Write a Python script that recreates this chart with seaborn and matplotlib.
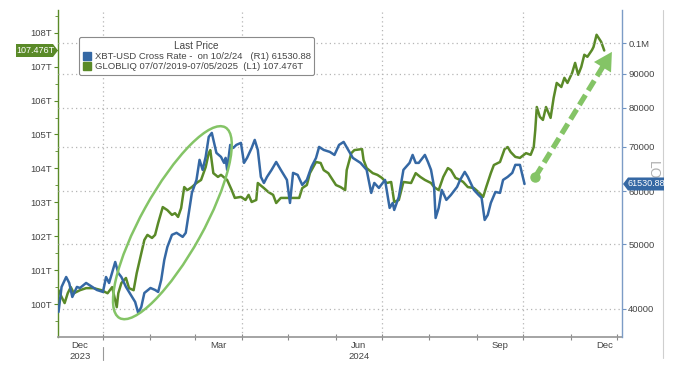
import matplotlib
matplotlib.use("Agg")
import numpy as np
import pandas as pd
import matplotlib.pyplot as plt
import matplotlib.dates as mdates
import matplotlib.patches as mpatches
import matplotlib.transforms as mtransforms
from matplotlib.lines import Line2D
from matplotlib.ticker import FixedLocator, NullLocator, FixedFormatter
import seaborn as sns

sns.set_theme(style="white")
plt.rcParams["font.family"] = ["Liberation Sans", "DejaVu Sans"]

# ---------------- data ----------------
gl_dates = [
    "2023-12-03", "2023-12-05", "2023-12-07", "2023-12-09", "2023-12-11", "2023-12-13",
    "2023-12-17", "2023-12-21", "2023-12-26", "2023-12-31", "2024-01-04", "2024-01-07",
    "2024-01-10", "2024-01-11", "2024-01-13", "2024-01-16", "2024-01-18", "2024-01-21",
    "2024-01-23", "2024-01-25", "2024-01-28", "2024-01-30", "2024-02-02", "2024-02-04",
    "2024-02-06", "2024-02-09", "2024-02-12", "2024-02-15", "2024-02-17", "2024-02-19",
    "2024-02-21", "2024-02-23", "2024-02-25", "2024-02-28", "2024-03-02", "2024-03-05",
    "2024-03-08", "2024-03-10", "2024-03-11", "2024-03-13", "2024-03-16", "2024-03-18",
    "2024-03-22", "2024-03-25", "2024-03-27", "2024-03-31", "2024-04-03", "2024-04-05",
    "2024-04-07", "2024-04-10", "2024-04-11", "2024-04-15", "2024-04-18", "2024-04-21",
    "2024-04-23", "2024-04-26", "2024-05-03", "2024-05-08", "2024-05-10", "2024-05-13",
    "2024-05-15", "2024-05-19", "2024-05-22", "2024-05-24", "2024-05-27", "2024-05-29",
    "2024-06-01", "2024-06-04", "2024-06-07", "2024-06-08", "2024-06-11", "2024-06-13",
    "2024-06-18", "2024-06-19", "2024-06-21", "2024-06-25", "2024-06-28", "2024-07-01",
    "2024-07-04", "2024-07-07", "2024-07-09", "2024-07-12", "2024-07-15", "2024-07-20",
    "2024-07-23", "2024-07-26", "2024-07-29", "2024-08-02", "2024-08-04", "2024-08-07",
    "2024-08-10", "2024-08-13", "2024-08-15", "2024-08-18", "2024-08-21", "2024-08-23",
    "2024-08-26", "2024-08-30", "2024-09-02", "2024-09-05", "2024-09-07", "2024-09-10",
    "2024-09-12", "2024-09-16", "2024-09-19", "2024-09-21", "2024-09-23", "2024-09-26",
    "2024-09-29", "2024-10-03", "2024-10-06", "2024-10-08", "2024-10-09", "2024-10-10",
    "2024-10-12", "2024-10-14", "2024-10-16", "2024-10-19", "2024-10-21", "2024-10-23",
    "2024-10-26", "2024-10-28", "2024-10-30", "2024-11-02", "2024-11-04", "2024-11-06",
    "2024-11-08", "2024-11-10", "2024-11-12", "2024-11-15", "2024-11-16", "2024-11-18",
    "2024-11-21", "2024-11-23",
]
gl_values = [
    100.41, 100.21, 100.03, 100.32, 100.50, 100.32,
    100.41, 100.47, 100.47, 100.41, 100.32, 100.50,
    99.91, 100.32, 100.62, 100.77, 100.47, 100.41,
    100.91, 101.30, 101.89, 102.04, 101.95, 102.04,
    102.39, 102.86, 102.77, 102.63, 102.68, 102.57,
    102.83, 103.45, 103.36, 103.45, 103.57, 103.66,
    104.04, 104.45, 104.54, 103.86, 103.75, 103.81,
    103.66, 103.36, 103.13, 103.16, 103.07, 103.22,
    103.01, 103.07, 103.57, 103.42, 103.30, 103.22,
    102.98, 103.13, 103.13, 103.13, 103.42, 103.51,
    103.86, 104.19, 104.16, 103.95, 103.86, 103.72,
    103.51, 103.45, 103.36, 103.95, 104.45, 104.54,
    104.57, 104.25, 104.01, 103.86, 103.81, 103.72,
    103.57, 103.60, 103.01, 103.07, 103.60, 103.57,
    103.86, 103.75, 103.66, 103.57, 103.45, 103.36,
    103.75, 104.01, 103.95, 103.72, 103.66, 103.60,
    103.45, 103.42, 103.30, 103.16, 103.45, 103.86,
    104.10, 104.19, 104.57, 104.63, 104.48, 104.34,
    104.31, 104.45, 104.40, 104.63, 105.13, 105.81,
    105.52, 105.43, 105.81, 105.49, 106.08, 106.52,
    106.40, 106.67, 106.52, 106.81, 107.11, 106.76,
    106.99, 107.35, 107.29, 107.49, 107.58, 107.94,
    107.73, 107.476,
]

xbt_dates = [
    "2023-12-03", "2023-12-05", "2023-12-08", "2023-12-10", "2023-12-12", "2023-12-15",
    "2023-12-17", "2023-12-21", "2023-12-25", "2023-12-28", "2024-01-01", "2024-01-03",
    "2024-01-05", "2024-01-09", "2024-01-11", "2024-01-13", "2024-01-16", "2024-01-20",
    "2024-01-22", "2024-01-24", "2024-01-26", "2024-01-28", "2024-02-01", "2024-02-04",
    "2024-02-06", "2024-02-08", "2024-02-10", "2024-02-12", "2024-02-15", "2024-02-18",
    "2024-02-22", "2024-02-24", "2024-02-26", "2024-02-28", "2024-03-02", "2024-03-04",
    "2024-03-06", "2024-03-08", "2024-03-10", "2024-03-12", "2024-03-15", "2024-03-18",
    "2024-03-20", "2024-03-21", "2024-03-22", "2024-03-24", "2024-03-26", "2024-03-28",
    "2024-03-31", "2024-04-02", "2024-04-04", "2024-04-07", "2024-04-09", "2024-04-11",
    "2024-04-13", "2024-04-15", "2024-04-17", "2024-04-20", "2024-04-23", "2024-04-26",
    "2024-04-30", "2024-05-02", "2024-05-04", "2024-05-07", "2024-05-10", "2024-05-13",
    "2024-05-16", "2024-05-19", "2024-05-21", "2024-05-24", "2024-05-28", "2024-05-31",
    "2024-06-03", "2024-06-06", "2024-06-09", "2024-06-12", "2024-06-17", "2024-06-21",
    "2024-06-24", "2024-06-26", "2024-06-29", "2024-07-03", "2024-07-06", "2024-07-08",
    "2024-07-09", "2024-07-12", "2024-07-15", "2024-07-19", "2024-07-21", "2024-07-23",
    "2024-07-25", "2024-07-29", "2024-07-31", "2024-08-02", "2024-08-04", "2024-08-05",
    "2024-08-07", "2024-08-09", "2024-08-12", "2024-08-15", "2024-08-19", "2024-08-21",
    "2024-08-24", "2024-08-26", "2024-08-30", "2024-09-02", "2024-09-04", "2024-09-06",
    "2024-09-08", "2024-09-10", "2024-09-13", "2024-09-16", "2024-09-18", "2024-09-21",
    "2024-09-24", "2024-09-26", "2024-09-29", "2024-10-02",
]
xbt_values = [
    39590, 43160, 44660, 43750, 41690, 43160,
    43000, 43750, 43160, 42710, 42420, 44660,
    43750, 47030, 45280, 44660, 43160, 41690,
    40980, 39450, 40280, 42270, 43000, 42710,
    42420, 44210, 47360, 49530, 51640, 52000,
    51280, 52000, 55690, 59670, 62400, 66860,
    64600, 67550, 72370, 73370, 68490, 67550,
    66170, 67320, 64600, 70400, 69670, 70400,
    70890, 66170, 67320, 69670, 71620, 69190,
    63050, 61750, 63050, 64600, 66380, 64600,
    62400, 57640, 63930, 63490, 61330, 62400,
    65270, 67320, 69910, 69190, 68720, 68010,
    70400, 71130, 69190, 67320, 66170, 64600,
    59670, 61750, 60700, 62400, 56660, 57640,
    56270, 58860, 64600, 66170, 68010, 66170,
    66170, 68010, 66380, 64600, 60910, 54730,
    56660, 60280, 58250, 59260, 60910, 62400,
    64150, 63050, 60280, 59260, 58650, 54360,
    55300, 57640, 59860, 59670, 62400, 63050,
    63930, 65720, 65720, 61530.88,
]

left_ticks = [100, 101, 102, 103, 104, 105, 106, 107, 108]
left_labels = ["100T", "101T", "102T", "103T", "104T", "105T", "106T", "107T", "108T"]
right_ticks = [40000, 50000, 60000, 70000, 80000, 90000, 100000]
right_labels = ["40000", "50000", "60000", "70000", "80000", "90000", "0.1M"]
month_label_dates = ["2023-12-17", "2024-03-16", "2024-06-16", "2024-09-16"]
month_labels = ["Dec\n2023", "Mar", "Jun\n2024", "Sep"]
last_month_label = "Dec"

legend_title = "Last Price"
xbt_label = "XBT-USD Cross Rate -  on 10/2/24   (R1) 61530.88"
gl_label = "GLOBLIQ 07/07/2019-07/05/2025  (L1) 107.476T"
xbt_tag = "61530.88"
gl_tag = "107.476T"

BLUE = "#3568a4"
GREEN = "#5a8a28"
LIGHT_GREEN = "#84c466"
TXT = "#444444"

# ---------------- figure ----------------
W, H = 679, 374
fig = plt.figure(figsize=(W / 100, H / 100), dpi=100)
fig.patch.set_facecolor("white")
ax = fig.add_axes([58 / W, 1 - 337 / H, (622 - 58) / W, (337 - 10) / H])
ax2 = ax.twinx()

gl = pd.DataFrame({"date": pd.to_datetime(gl_dates), "value": gl_values})
xbt = pd.DataFrame({"date": pd.to_datetime(xbt_dates), "value": xbt_values})

sns.lineplot(data=gl, x="date", y="value", ax=ax, color=GREEN, linewidth=1.8, zorder=3)
sns.lineplot(data=xbt, x="date", y="value", ax=ax2, color=BLUE, linewidth=1.8, zorder=3)

ax.set_xlim(pd.Timestamp("2023-12-02 16:00"), pd.Timestamp("2024-12-04 14:00"))
ax.set_ylim(99.03, 108.67)
ax2.set_yscale("log")
ax2.set_ylim(36320, 112050)

for a in (ax, ax2):
    a.set_xlabel("")
    a.set_ylabel("")
    a.set_facecolor("none")
ax.set_facecolor("white")

# left axis
ax.yaxis.set_major_locator(FixedLocator(left_ticks))
ax.yaxis.set_major_formatter(FixedFormatter(left_labels))
ax.yaxis.set_minor_locator(FixedLocator(np.arange(99.5, 108.6, 1.0)))
ax.tick_params(axis="y", which="major", direction="out", length=3, width=0.8,
               color=GREEN, labelsize=6.8, labelcolor=TXT, pad=1.5, left=True)
ax.tick_params(axis="y", which="minor", direction="out", length=2, width=0.6,
               color=GREEN, left=True)

# right axis
ax2.yaxis.set_major_locator(FixedLocator(right_ticks))
ax2.yaxis.set_major_formatter(FixedFormatter(right_labels))
ax2.yaxis.set_minor_locator(NullLocator())
ax2.tick_params(axis="y", which="major", direction="out", length=3, width=0.8,
                color="#6f93c2", labelsize=6.8, labelcolor=TXT, pad=1.5, right=True)

# x axis: month ticks, quarter grid, labels at mid-month
ax.xaxis.set_major_locator(mdates.MonthLocator(bymonth=[1, 4, 7, 10]))
ax.xaxis.set_minor_locator(mdates.MonthLocator())
ax.xaxis.set_major_formatter(plt.NullFormatter())
ax.tick_params(axis="x", which="both", direction="inout", length=4, width=0.8,
               color="#888888", bottom=True)
for d, t in zip(month_label_dates, month_labels):
    ax.text(pd.Timestamp(d), -0.012, t, transform=ax.get_xaxis_transform(),
            ha="center", va="top", fontsize=6.8, color=TXT, linespacing=1.25)
ax.text(0.985, -0.012, last_month_label, transform=ax.transAxes,
        ha="right", va="top", fontsize=6.8, color=TXT)
# year separator
ax.plot([pd.Timestamp("2024-01-01")] * 2, [-0.03, -0.07], transform=ax.get_xaxis_transform(),
        color="#999999", lw=0.8, clip_on=False)

# grids
ax.grid(axis="x", which="major", color="#b5b5b5", linestyle=(0, (1, 2.5)), linewidth=0.9)
ax2.grid(axis="y", which="major", color="#b5b5b5", linestyle=(0, (1, 2.5)), linewidth=0.9)
ax.set_axisbelow(True)

# spines
for s in ("top", "right"):
    ax.spines[s].set_visible(False)
ax.spines["left"].set_color(GREEN)
ax.spines["left"].set_linewidth(1.0)
ax.spines["bottom"].set_color("#999999")
for s in ("top", "left", "bottom"):
    ax2.spines[s].set_visible(False)
ax2.spines["right"].set_color("#7c9cc6")
ax2.spines["right"].set_linewidth(1.0)

# legend
handles = [mpatches.Patch(facecolor=BLUE, edgecolor=BLUE),
           mpatches.Patch(facecolor=GREEN, edgecolor=GREEN)]
leg = fig.legend(handles, [xbt_label, gl_label], title=legend_title,
                 loc="upper left", bbox_to_anchor=(79 / W, 1 - 37 / H), borderaxespad=0,
                 fontsize=6.8, title_fontsize=7.2, handlelength=0.9, handleheight=0.9,
                 handletextpad=0.35, borderpad=0.4, labelspacing=0.1,
                 frameon=True, fancybox=True, edgecolor="#8a8a8a", framealpha=1)
leg.get_frame().set_linewidth(0.8)
for t in leg.get_texts():
    t.set_color(TXT)
leg.get_title().set_color(TXT)

# ellipse around the rally
ident = mtransforms.IdentityTransform()
cx, cy = ax.transData.transform((mdates.date2num(pd.Timestamp("2024-02-15 07:00")), 102.40))
ell = mpatches.Ellipse((cx, cy), width=218, height=62, angle=61, transform=ident,
                       fill=False, edgecolor=LIGHT_GREEN, linewidth=1.8, zorder=5)
fig.add_artist(ell)

# dashed arrow
p0 = (mdates.date2num(pd.Timestamp("2024-10-09")), 63050)
p1 = (mdates.date2num(pd.Timestamp("2024-11-28")), 97000)
d0 = ax2.transData.transform(p0)
d1 = ax2.transData.transform(p1)
vec = d1 - d0
u = vec / np.hypot(*vec)
head_len = 18
shaft_end = d1 - u * (head_len - 2)
fig.add_artist(Line2D([d0[0], shaft_end[0]], [d0[1], shaft_end[1]], transform=ident,
                      color=LIGHT_GREEN, lw=3.8, linestyle=(0, (2.2, 1.0)),
                      solid_capstyle="butt", dash_capstyle="butt", zorder=6))
perp = np.array([-u[1], u[0]])
base = d1 - u * head_len
head = mpatches.Polygon([d1, base + perp * 10, base - perp * 10], closed=True,
                        transform=ident, facecolor=LIGHT_GREEN, edgecolor="none", zorder=6)
fig.add_artist(head)
ax2.plot([pd.Timestamp("2024-10-09")], [63050], marker="o", markersize=6.5,
         color=LIGHT_GREEN, zorder=6, clip_on=False)

# value tags
x0 = ax.bbox.x0
x1 = ax.bbox.x1
yg = ax.transData.transform((0, gl_values[-1]))[1]
yb = ax2.transData.transform((0, xbt_values[-1]))[1]
hh = 6.5
gtag = mpatches.Polygon([(x0 - 42, yg - hh), (x0 - 5, yg - hh), (x0, yg), (x0 - 5, yg + hh),
                         (x0 - 42, yg + hh)], closed=True, transform=ident,
                        facecolor=GREEN, edgecolor="none", zorder=7)
fig.add_artist(gtag)
fig.text(x0 - 23, yg, gl_tag, transform=ident, ha="center", va="center",
         fontsize=6.5, color="white", zorder=8)
btag = mpatches.Polygon([(x1 + 1, yb), (x1 + 6, yb - hh), (x1 + 42, yb - hh),
                         (x1 + 42, yb + hh), (x1 + 6, yb + hh)], closed=True, transform=ident,
                        facecolor=BLUE, edgecolor="none", zorder=7)
fig.add_artist(btag)
fig.text(x1 + 24, yb, xbt_tag, transform=ident, ha="center", va="center",
         fontsize=6.5, color="white", zorder=8)

# decorations at the right edge
fig.text(653 / W, 1 - 170 / H, "LO", rotation=270, color="#b0b0b0", fontsize=10,
         ha="center", va="center", zorder=1)
fig.add_artist(Line2D([663 / W, 663 / W], [1 - 358 / H, 1 - 10 / H], transform=fig.transFigure,
                      color="#cfcfcf", lw=0.8))

fig.savefig("out.png", dpi=100, facecolor="white")
